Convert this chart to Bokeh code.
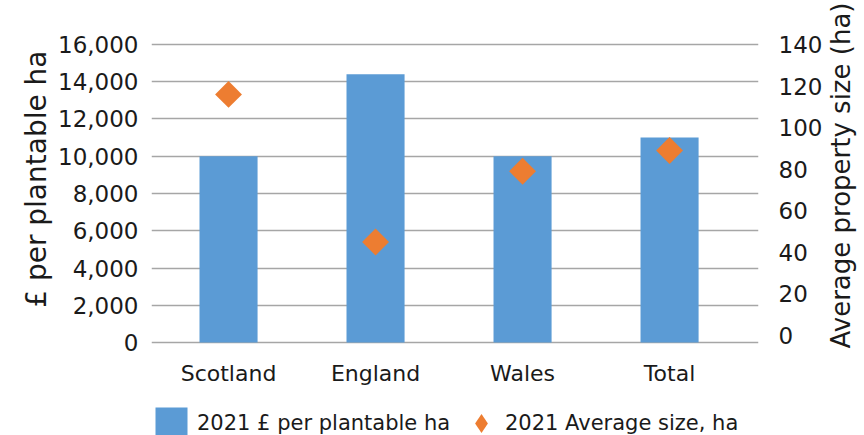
from bokeh.embed import file_html
from bokeh.resources import INLINE
from bokeh.plotting import figure
from bokeh.models import (ColumnDataSource, Range1d, LinearAxis, FixedTicker,
                          NumeralTickFormatter, Legend, LegendItem)
import math

# Land values and average property size by nation, 2021
categories = ["Scotland", "England", "Wales", "Total"]
price_per_ha = [10000, 14400, 10000, 11000]      # £ per plantable ha
avg_size_ha = [116, 45, 79, 89]                   # average property size, ha

left_ticks = [0, 2000, 4000, 6000, 8000, 10000, 12000, 14000, 16000]
right_ticks = [0, 20, 40, 60, 80, 100, 120, 140]

left_title = "£ per plantable ha"
right_title = "Average property size (ha)"

BLUE = "#5B9BD5"
ORANGE = "#ED7D31"
GRID = "#A6A6A6"
TEXT = "#1a1a1a"
FONT = "DejaVu Sans"

xpos = list(range(len(categories)))
src = ColumnDataSource(dict(x=xpos, cat=categories, price=price_per_ha, size=avg_size_ha))

# the frame runs down to the bottom edge so the category names and the
# legend row can sit underneath the zero line
p = figure(frame_width=607, frame_height=393, output_backend="svg",
           toolbar_location=None, x_axis_location="above",
           x_range=Range1d(-0.524, 3.605), y_range=Range1d(-4993, 16107),
           min_border_left=151, min_border_right=106, min_border_top=42,
           min_border_bottom=0, background_fill_color="white",
           border_fill_color="white")
p.outline_line_color = None

p.extra_y_ranges = {"size": Range1d(-48.11, 140.96)}

bars = p.vbar(x="x", top="price", width=0.395, source=src,
              fill_color=BLUE, line_color=None)
# narrow diamonds give the legend its diamond swatch; the rotated squares
# drawn over them are the visible markers
swatch = p.scatter(x="x", y="size", source=src, y_range_name="size",
                   marker="diamond", size=19,
                   fill_color=ORANGE, line_color=None)
dots = p.scatter(x="x", y="size", source=src, y_range_name="size",
                 marker="square", size=19, angle=math.pi / 4,
                 fill_color=ORANGE, line_color=None)


def style_axis(ax, standoff, size):
    ax.axis_line_color = None
    ax.major_tick_line_color = None
    ax.minor_tick_line_color = None
    ax.major_tick_out = 0
    ax.minor_tick_out = 0
    ax.major_label_standoff = standoff
    ax.major_label_text_font = FONT
    ax.major_label_text_font_size = size
    ax.major_label_text_color = TEXT


# category names, drawn just under the zero line
xa = p.xaxis[0]
xa.ticker = FixedTicker(ticks=xpos)
xa.major_label_overrides = {i: c for i, c in zip(xpos, categories)}
xa.fixed_location = -2309
style_axis(xa, 0, "22px")
p.xgrid.visible = False

# left axis: £ per plantable ha
ya = p.yaxis[0]
ya.ticker = FixedTicker(ticks=left_ticks)
ya.formatter = NumeralTickFormatter(format="0,0")
style_axis(ya, 13, "23px")
p.ygrid.ticker = FixedTicker(ticks=left_ticks)
p.ygrid.grid_line_color = GRID
p.ygrid.grid_line_width = 1.6

# right axis: average property size
ra = LinearAxis(y_range_name="size", ticker=FixedTicker(ticks=right_ticks))
style_axis(ra, 20, "23px")
p.add_layout(ra, "right")

# axis titles, each set as one label reading upwards beside its scale
lt_end = 15677  # where the left title ends (top), in £ units
lt = LinearAxis(ticker=FixedTicker(ticks=[lt_end]),
                major_label_overrides={lt_end: left_title},
                major_label_orientation=math.pi / 2)
style_axis(lt, 19, "28px")
p.add_layout(lt, "left")

rt_start = -4.3  # where the right title starts (bottom), in ha units
rt = LinearAxis(y_range_name="size", ticker=FixedTicker(ticks=[rt_start]),
                major_label_overrides={rt_start: right_title},
                major_label_orientation=math.pi / 2)
style_axis(rt, 16, "26px")
p.add_layout(rt, "right")


# legend row along the bottom edge
def add_legend(item, loc, gw, gh, standoff):
    lg = Legend(items=[item], location=loc, orientation="horizontal",
                glyph_width=gw, glyph_height=gh, label_standoff=standoff,
                padding=0, margin=0, spacing=0, border_line_color=None,
                background_fill_alpha=0, label_text_font=FONT,
                label_text_font_size="21px", label_text_color=TEXT)
    p.add_layout(lg)


add_legend(LegendItem(label="2021 £ per plantable ha", renderers=[bars]),
           (0, -8), 40, 40, 6)
add_legend(LegendItem(label="2021 Average size, ha", renderers=[swatch]),
           (306, -12), 48, 48, 0)

open("out.html", "w").write(file_html(p, INLINE))
